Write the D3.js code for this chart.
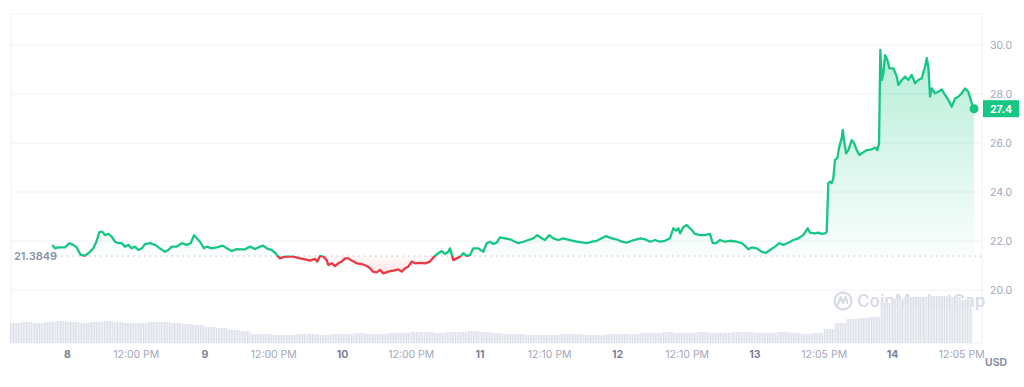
<!DOCTYPE html>
<html>
<head>
<meta charset="utf-8">
<script src="https://cdn.jsdelivr.net/npm/d3@7"></script>
<style>
  html, body { margin: 0; padding: 0; background: #fff; }
  svg { display: block; font-family: Inter, "Noto Sans", sans-serif; }
</style>
</head>
<body>
<div id="display"></div>
<script>
// price trace, hours since day 8 00:00
const hours = [-2.57,-2.09,-1.52,-0.35,0.40,1.10,1.69,2.39,3.14,3.72,4.59,5.18,5.64,6.16,6.63,7.21,7.80,8.38,8.95,9.55,
  10.12,10.70,11.29,11.87,12.45,13.04,13.61,14.49,15.36,16.23,17.11,17.68,18.28,19.15,20.02,20.89,21.59,22.17,22.64,23.22,
  23.91,24.38,25.26,26.13,27.18,27.88,28.75,29.62,30.20,31.07,31.94,32.82,33.69,34.26,34.86,35.73,36.31,36.88,37.18,38.05,
  39.50,40.67,41.54,42.42,43.29,43.69,44.16,44.74,45.33,45.61,46.20,46.78,47.36,47.95,48.52,49.10,49.69,50.57,51.44,52.31,
  52.89,53.36,54.06,54.63,55.21,56.08,56.96,57.83,58.42,59.00,59.57,60.17,60.74,61.62,62.49,63.36,64.06,64.81,65.40,65.98,
  66.55,66.85,67.43,68.02,68.60,69.17,69.77,70.34,70.92,71.79,72.66,73.26,73.83,74.41,75.00,75.58,76.45,77.33,78.20,78.78,
  79.65,80.52,81.39,82.09,82.86,83.43,84.18,84.88,85.76,86.63,87.80,88.97,90.12,90.71,91.59,92.46,93.33,94.08,95.08,95.95,
  96.82,97.70,98.57,99.44,100.14,100.89,101.76,102.64,103.51,104.38,105.25,105.83,106.30,106.70,107.00,107.57,108.17,109.04,109.62,110.49,
  111.36,112.24,112.71,113.28,113.98,114.85,115.73,116.90,117.77,118.35,118.92,119.51,120.39,121.26,122.01,122.71,123.58,124.33,125.03,125.90,
  126.78,127.65,128.52,129.29,129.69,130.56,131.14,131.73,132.31,132.60,132.88,133.18,133.48,133.76,134.05,134.45,134.80,135.22,135.40,135.63,
  135.98,136.38,136.97,137.37,137.84,138.30,138.71,139.59,140.46,141.04,141.44,141.74,141.96,142.21,142.49,142.79,143.19,143.54,144.24,144.83,
  145.11,145.71,146.28,146.86,147.44,148.02,148.60,149.19,149.77,150.06,150.34,150.64,150.93,151.51,152.09,152.68,153.26,153.83,154.43,155.00,
  155.58,156.17,156.75,157.32,157.92,158.32];
const prices = [21.84,21.70,21.74,21.74,21.91,21.84,21.74,21.43,21.40,21.50,21.70,22.00,22.36,22.38,22.24,22.29,22.18,21.97,21.91,21.91,
  21.77,21.84,21.70,21.77,21.63,21.70,21.87,21.91,21.84,21.70,21.56,21.63,21.77,21.77,21.91,21.84,21.91,22.24,22.11,21.97,
  21.70,21.77,21.70,21.74,21.81,21.70,21.59,21.67,21.66,21.66,21.77,21.67,21.77,21.81,21.70,21.63,21.52,21.36,21.29,21.36,
  21.36,21.29,21.25,21.20,21.27,21.16,21.39,21.36,21.22,21.02,21.09,20.98,21.09,21.16,21.29,21.29,21.20,21.09,21.06,20.98,
  20.89,20.75,20.72,20.82,20.68,20.75,20.79,20.84,20.75,20.89,20.95,21.16,21.09,21.11,21.09,21.16,21.36,21.50,21.59,21.47,
  21.56,21.70,21.22,21.29,21.36,21.50,21.39,21.43,21.70,21.70,21.56,21.91,21.97,21.88,21.93,22.15,22.11,22.07,21.97,21.91,
  21.97,22.04,22.11,22.24,22.11,22.04,22.24,22.11,22.04,22.11,22.04,21.97,21.93,21.91,21.97,22.01,22.11,22.20,22.11,22.07,
  21.97,21.93,22.01,22.07,22.11,22.07,21.97,22.04,21.97,22.01,22.11,22.52,22.42,22.52,22.31,22.56,22.65,22.45,22.29,22.24,
  22.24,22.29,21.91,21.91,22.04,21.97,22.01,21.97,21.91,21.80,21.66,21.74,21.70,21.56,21.52,21.63,21.77,21.91,21.84,21.93,
  22.04,22.11,22.24,22.52,22.34,22.31,22.34,22.29,22.31,22.38,24.36,24.42,24.36,24.56,25.31,25.38,25.85,26.20,26.53,26.12,
  25.58,25.71,26.12,25.99,25.71,25.51,25.58,25.71,25.74,25.82,25.71,25.99,29.80,28.57,28.84,29.59,29.39,29.05,29.05,28.71,
  28.37,28.57,28.71,28.57,28.78,28.44,28.57,28.64,29.11,29.46,29.11,27.89,28.23,28.03,28.09,28.19,27.96,27.76,27.48,27.82,
  27.89,28.03,28.23,28.09,27.62,27.40];

// volume, one value per 2 hours starting at hour -10
const volumes = [2.0,2.1,2.0,2.1,2.2,2.1,2.0,2.1,2.2,2.1,2.0,2.0,2.1,2.1,2.0,1.9,1.8,
  1.6,1.5,1.3,1.2,
  0.9,0.9,0.8,0.8,0.9,0.9,0.8,0.9,0.9,1.0,0.9,0.9,1.0,1.0,1.1,1.1,1.0,
  1.1,1.1,1.2,1.1,1.0,
  0.9,0.9,0.8,0.8,0.8,0.9,0.9,0.8,0.8,0.9,0.9,0.9,
  1.0,1.0,1.1,1.0,1.0,1.1,1.0,1.0,1.1,1.1,1.0,1.0,1.1,1.0,0.9,1.0,
  1.4,2.0,2.4,2.5,2.6,
  4.0,4.4,4.6,4.6,4.7,4.7,4.6,4.3];

const baseline = 21.3849;
const lastPrice = 27.4;
const yTicks = [20, 22, 24, 26, 28, 30];
const xTickHours = [0, 12, 24, 36, 48, 60, 72, 84.17, 96, 108.17, 120, 132.08, 144, 156.08];
const xTickLabels = ['8', '12:00 PM', '9', '12:00 PM', '10', '12:00 PM', '11', '12:10 PM', '12', '12:10 PM', '13', '12:05 PM', '14', '12:05 PM'];

const GREEN = '#16c784';
const RED = '#ea3943';
const GRID = '#eff2f5';
const TEXT = '#a1a7bb';

const base = Date.UTC(2024, 0, 8);
const toDate = h => new Date(base + h * 3600e3);

const W = 1024, H = 387;
const svg = d3.select('#display')
  .append('svg')
  .attr('width', W)
  .attr('height', H);

const x = d3.scaleUtc().domain([toDate(0), toDate(144)]).range([67, 892]);
const y = d3.scaleLinear().domain([20, 30]).range([290, 45]);
const yVol = d3.scaleLinear().domain([0, 5.3]).range([343, 290]);

const plotL = 11, plotR = 982, plotT = 14, plotB = 343;

const defs = svg.append('defs');

// stripes to mimic thin volume bars
const pat = defs.append('pattern')
  .attr('id', 'volStripes')
  .attr('patternUnits', 'userSpaceOnUse')
  .attr('width', 2.6)
  .attr('height', 10);
pat.append('rect').attr('width', 2.6).attr('height', 10).attr('fill', '#f0f2f6');
pat.append('rect').attr('width', 1.2).attr('height', 10).attr('fill', '#d6dae4');

const gUp = defs.append('linearGradient')
  .attr('id', 'gradUp')
  .attr('gradientUnits', 'userSpaceOnUse')
  .attr('x1', 0).attr('x2', 0)
  .attr('y1', y(30)).attr('y2', y(baseline));
gUp.append('stop').attr('offset', 0).attr('stop-color', GREEN).attr('stop-opacity', 0.32);
gUp.append('stop').attr('offset', 1).attr('stop-color', GREEN).attr('stop-opacity', 0.02);

const gDown = defs.append('linearGradient')
  .attr('id', 'gradDown')
  .attr('gradientUnits', 'userSpaceOnUse')
  .attr('x1', 0).attr('x2', 0)
  .attr('y1', y(baseline)).attr('y2', y(20.6));
gDown.append('stop').attr('offset', 0).attr('stop-color', RED).attr('stop-opacity', 0.02);
gDown.append('stop').attr('offset', 1).attr('stop-color', RED).attr('stop-opacity', 0.15);

defs.append('clipPath').attr('id', 'clipUp')
  .append('rect')
  .attr('x', 0).attr('y', 0)
  .attr('width', W).attr('height', y(baseline));
defs.append('clipPath').attr('id', 'clipDown')
  .append('rect')
  .attr('x', 0).attr('y', y(baseline))
  .attr('width', W).attr('height', H - y(baseline));

// frame and grid
svg.append('rect')
  .attr('x', plotL).attr('y', plotT)
  .attr('width', plotR - plotL).attr('height', plotB - plotT)
  .attr('fill', 'none')
  .attr('stroke', GRID)
  .attr('stroke-width', 1);

svg.append('g')
  .selectAll('line')
  .data(yTicks)
  .join('line')
  .attr('x1', plotL).attr('x2', plotR)
  .attr('y1', d => y(d)).attr('y2', d => y(d))
  .attr('stroke', GRID)
  .attr('stroke-width', 1);

// watermark (sits under the volume bars)
const wm = svg.append('g');
wm.append('circle')
  .attr('cx', 843).attr('cy', 301).attr('r', 8.5)
  .attr('fill', 'none').attr('stroke', '#d9dce5').attr('stroke-width', 2.4);
wm.append('path')
  .attr('d', 'M837.5,305 L840.5,297 L843,303 L845.5,297 L847.5,303')
  .attr('fill', 'none').attr('stroke', '#d9dce5').attr('stroke-width', 2.2)
  .attr('stroke-linejoin', 'round').attr('stroke-linecap', 'round');
wm.append('text')
  .attr('x', 857).attr('y', 307)
  .attr('font-size', 17)
  .attr('font-weight', 600)
  .attr('fill', '#d9dce5')
  .text('CoinMarketCap');

// volume bars
const volData = volumes.map((v, i) => ({ h: -10 + 2 * i, v: v }));
svg.append('g')
  .attr('opacity', 0.9)
  .selectAll('rect')
  .data(volData)
  .join('rect')
  .attr('x', d => x(toDate(d.h)))
  .attr('width', d => x(toDate(d.h + 2)) - x(toDate(d.h)))
  .attr('y', d => yVol(d.v))
  .attr('height', d => yVol(0) - yVol(d.v))
  .attr('fill', 'url(#volStripes)');

// price area and line
const data = hours.map((h, i) => ({ t: toDate(h), p: prices[i] }));
const area = d3.area()
  .x(d => x(d.t))
  .y0(y(baseline))
  .y1(d => y(d.p));
const line = d3.line()
  .x(d => x(d.t))
  .y(d => y(d.p));

svg.append('path').datum(data)
  .attr('d', area)
  .attr('fill', 'url(#gradUp)')
  .attr('clip-path', 'url(#clipUp)');
svg.append('path').datum(data)
  .attr('d', area)
  .attr('fill', 'url(#gradDown)')
  .attr('clip-path', 'url(#clipDown)');

// baseline
svg.append('line')
  .attr('x1', 56).attr('x2', plotR)
  .attr('y1', y(baseline)).attr('y2', y(baseline))
  .attr('stroke', '#b8bdcc')
  .attr('stroke-width', 1)
  .attr('stroke-dasharray', '1.5,4');

svg.append('path').datum(data)
  .attr('d', line)
  .attr('fill', 'none')
  .attr('stroke', GREEN)
  .attr('stroke-width', 2.3)
  .attr('stroke-linejoin', 'round')
  .attr('clip-path', 'url(#clipUp)');
svg.append('path').datum(data)
  .attr('d', line)
  .attr('fill', 'none')
  .attr('stroke', RED)
  .attr('stroke-width', 2.3)
  .attr('stroke-linejoin', 'round')
  .attr('clip-path', 'url(#clipDown)');

const last = data[data.length - 1];
svg.append('circle')
  .attr('cx', x(last.t)).attr('cy', y(last.p))
  .attr('r', 4.5)
  .attr('fill', GREEN);

svg.append('text')
  .attr('x', 14).attr('y', y(baseline) + 4)
  .attr('font-size', 11)
  .attr('font-weight', 600)
  .attr('fill', '#8a91a6')
  .text(baseline.toString());

// y axis
const yAxis = d3.axisRight(y)
  .tickValues(yTicks)
  .tickFormat(d3.format('.1f'))
  .tickSize(0)
  .tickPadding(8);
svg.append('g')
  .attr('transform', `translate(${plotR},0)`)
  .call(yAxis)
  .call(g => g.select('.domain').remove())
  .call(g => g.selectAll('text')
    .attr('fill', TEXT)
    .attr('font-size', 10.5)
    .attr('font-family', 'Inter, sans-serif'));

// last price tag
svg.append('rect')
  .attr('x', 983).attr('y', y(lastPrice) - 8.5)
  .attr('width', 36).attr('height', 17)
  .attr('fill', GREEN);
svg.append('text')
  .attr('x', 1001).attr('y', y(lastPrice) + 4)
  .attr('text-anchor', 'middle')
  .attr('font-size', 10.5)
  .attr('font-weight', 700)
  .attr('fill', '#fff')
  .text(lastPrice.toFixed(1));

// x axis
const xAxis = d3.axisBottom(x)
  .tickValues(xTickHours.map(toDate))
  .tickFormat((d, i) => xTickLabels[i])
  .tickSize(0)
  .tickPadding(8);
svg.append('g')
  .attr('transform', `translate(0,${plotB})`)
  .call(xAxis)
  .call(g => g.select('.domain').remove())
  .call(g => g.selectAll('text')
    .attr('font-size', 10.5)
    .attr('font-family', 'Inter, sans-serif')
    .attr('font-weight', (d, i) => xTickLabels[i].includes('PM') ? 400 : 700)
    .attr('fill', (d, i) => xTickLabels[i].includes('PM') ? TEXT : '#7a8298'));

svg.append('text')
  .attr('x', 985).attr('y', 366)
  .attr('font-size', 10.5)
  .attr('font-weight', 700)
  .attr('fill', '#8a91a6')
  .text('USD');
</script>
</body>
</html>
